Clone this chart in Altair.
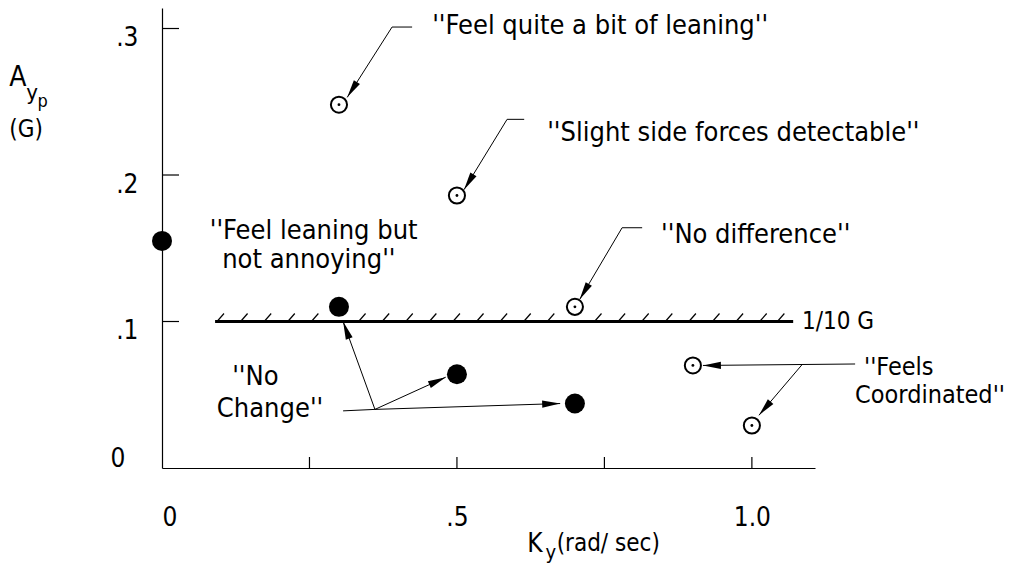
import math
import altair as alt
import pandas as pd

# ---------------- data ----------------
filled_x = [0.0, 0.3, 0.5, 0.7]
filled_y = [0.155, 0.11, 0.064, 0.044]
open_x = [0.3, 0.5, 0.7, 0.9, 1.0]
open_y = [0.248, 0.186, 0.11, 0.07, 0.029]

limit_y = 0.1
limit_x = [0.09, 1.07]
hatch_x = [0.10, 0.14, 0.18, 0.22, 0.26, 0.34, 0.38, 0.42, 0.46, 0.50, 0.54,
           0.58, 0.62, 0.66, 0.74, 0.78, 0.82, 0.86, 0.90, 0.94, 0.98, 1.02, 1.05]

x_tick_vals = [0.25, 0.5, 0.75, 1.0]
y_tick_vals = [0.1, 0.2, 0.3]

# annotation texts
ann_text = ["''Feel quite a bit of leaning''", "''Slight side forces detectable''",
            "''Feel leaning but", "not annoying''", "''No difference''", "1/10 G",
            "''No", "Change''", "''Feels", "Coordinated''"]
ann_x = [0.458, 0.653, 0.081, 0.102, 0.846, 1.085, 0.119, 0.093, 1.190, 1.175]
ann_y = [0.302, 0.229, 0.162, 0.142, 0.159, 0.100, 0.062, 0.040, 0.069, 0.050]
ann_size = [27, 27, 27, 27, 27, 24, 27, 27, 25, 25]

# leader segments (start -> end), arrow at end when arrow == 1
seg_x1 = [0.390, 0.390, 0.585, 0.585, 0.780, 0.780, 1.175, 1.086, 0.307, 0.361, 0.361, 0.361]
seg_y1 = [0.301, 0.301, 0.238, 0.238, 0.164, 0.164, 0.071, 0.071, 0.039, 0.040, 0.040, 0.040]
seg_x2 = [0.424, 0.314, 0.614, 0.512, 0.814, 0.708, 0.917, 1.012, 0.361, 0.481, 0.675, 0.307]
seg_y2 = [0.301, 0.253, 0.238, 0.190, 0.164, 0.115, 0.070, 0.036, 0.040, 0.062, 0.044, 0.100]
seg_arrow = [0, 1, 0, 1, 0, 1, 1, 1, 0, 1, 1, 1]

# axis-title pieces
title_text = ["A", "y", "p", "(G)", "K", "y", "(rad/ sec)"]
title_x = [-0.259, -0.230, -0.211, -0.259, 0.619, 0.650, 0.669]
title_y = [0.266, 0.256, 0.250, 0.231, -0.052, -0.058, -0.052]
title_size = [28, 22, 18, 24, 26, 20, 24]

# ---------------- layout ----------------
W, H = 653, 460
XMAX, YMAX = 1.107, 0.314
PXX, PXY = W / XMAX, H / YMAX
FONT = "Liberation Sans Narrow, DejaVu Sans Condensed, Arial Narrow, sans-serif"

xs = alt.Scale(domain=[0, XMAX], nice=False, zero=False)
ys = alt.Scale(domain=[0, YMAX], nice=False, zero=False)

seg_df = pd.DataFrame(dict(x=seg_x1, y=seg_y1, x2=seg_x2, y2=seg_y2, arrow=seg_arrow))
ang = []
for a, b, c, d in zip(seg_x1, seg_y1, seg_x2, seg_y2):
    dx = (c - a) * PXX
    dy = -(d - b) * PXY
    ang.append(math.degrees(math.atan2(dx, -dy)) % 360)
seg_df["angle"] = ang
arrow_df = seg_df[seg_df.arrow == 1]

base_x = alt.X("x:Q", scale=xs, title=None)
base_y = alt.Y("y:Q", scale=ys, title=None)

# axes layer (domain + labels)
axes = alt.Chart(pd.DataFrame(dict(x=[0.0], y=[0.0]))).mark_point(opacity=0).encode(
    x=alt.X("x:Q", scale=xs, title=None, axis=alt.Axis(
        values=[0, 0.5, 1.0], ticks=False, grid=False, title=None,
        domainColor="black", domainWidth=1.2, labelFont=FONT, labelFontSize=26,
        labelColor="black", labelPadding=36,
        labelExpr="datum.value === 0 ? '0' : (datum.value < 1 ? '.' + format(datum.value*10, 'd') : format(datum.value, '.1f'))")),
    y=alt.Y("y:Q", scale=ys, title=None, axis=alt.Axis(
        values=[0, 0.1, 0.2, 0.3], ticks=False, grid=False, title=None,
        domainColor="black", domainWidth=1.2, labelFont=FONT, labelFontSize=26,
        labelColor="black",
        labelPadding={"condition": {"test": "datum.value === 0", "value": 52}, "value": 24},
        labelAlign={"condition": {"test": "datum.value === 0", "value": "left"}, "value": "right"},
        labelOffset={"condition": {"test": "datum.value === 0", "value": -10}, "value": 9},
        labelExpr="datum.value === 0 ? '0' : '.' + format(datum.value*10, 'd')")),
)

xticks = alt.Chart(pd.DataFrame(dict(x=x_tick_vals))).mark_rule(color="black", strokeWidth=1.2).encode(
    x=base_x, y=alt.value(H), y2=alt.value(H - 11))
yticks = alt.Chart(pd.DataFrame(dict(y=y_tick_vals))).mark_rule(color="black", strokeWidth=1.2).encode(
    y=base_y, x=alt.value(0), x2=alt.value(17))

limit = alt.Chart(pd.DataFrame(dict(x=[limit_x[0]], x2=[limit_x[1]], y=[limit_y]))).mark_rule(
    color="black", strokeWidth=3).encode(x=base_x, x2="x2:Q", y=base_y)
hatch = alt.Chart(pd.DataFrame(dict(x=hatch_x, y=[limit_y] * len(hatch_x)))).mark_point(
    shape="M-1,0L0.75,-2", filled=False, color="black", strokeWidth=1.2, size=64, opacity=1
).encode(x=base_x, y=base_y)

segs = alt.Chart(seg_df).mark_rule(color="black", strokeWidth=1).encode(
    x=base_x, y=base_y, x2="x2:Q", y2="y2:Q")
arrows = alt.Chart(arrow_df).mark_point(
    shape="M0,0L0.4,2L-0.4,2Z", filled=True, color="black", size=324, opacity=1
).encode(x=alt.X("x2:Q", scale=xs, title=None), y=alt.Y("y2:Q", scale=ys, title=None),
         angle=alt.Angle("angle:Q", scale=None))

filled = alt.Chart(pd.DataFrame(dict(x=filled_x, y=filled_y))).mark_circle(
    color="black", size=400, opacity=1).encode(x=base_x, y=base_y)
opened = alt.Chart(pd.DataFrame(dict(x=open_x, y=open_y))).mark_point(
    shape="circle", filled=True, fill="white", stroke="black", strokeWidth=2, size=260, opacity=1
).encode(x=base_x, y=base_y)
dots = alt.Chart(pd.DataFrame(dict(x=open_x, y=open_y))).mark_circle(
    color="black", size=8, opacity=1).encode(x=base_x, y=base_y)

ann = alt.Chart(pd.DataFrame(dict(t=ann_text, x=ann_x, y=ann_y, s=ann_size))).mark_text(
    align="left", baseline="middle", font=FONT, color="black").encode(
    x=base_x, y=base_y, text="t:N", size=alt.Size("s:Q", scale=None))
titles = alt.Chart(pd.DataFrame(dict(t=title_text, x=title_x, y=title_y, s=title_size))).mark_text(
    align="left", baseline="middle", font=FONT, color="black").encode(
    x=base_x, y=base_y, text="t:N", size=alt.Size("s:Q", scale=None))

chart = alt.layer(axes, xticks, yticks, limit, hatch, segs, arrows, filled, opened, dots, ann, titles).properties(
    width=W, height=H,
    autosize=alt.AutoSizeParams(type="none"),
    padding={"left": 154, "top": 0, "right": 194, "bottom": 95},
    background="white",
).configure_view(stroke=None)

chart.save("out.html", embed_options={"renderer": "svg", "actions": False})
